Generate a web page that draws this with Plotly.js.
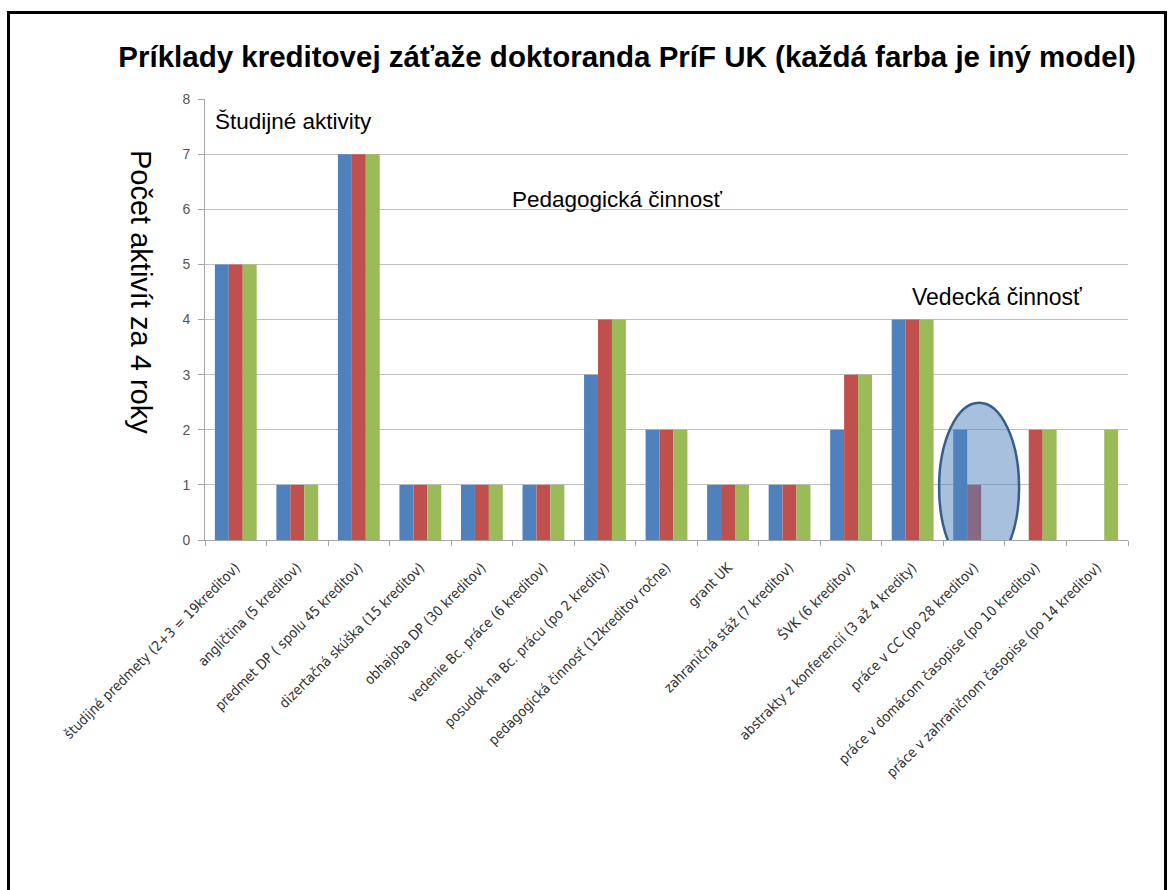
<!DOCTYPE html>
<html>
<head>
<meta charset="utf-8">
<script src="https://cdn.plot.ly/plotly-3.0.1.min.js"></script>
<style>
html,body{margin:0;padding:0;background:#fff;}
#frame{position:absolute;left:7px;top:11px;width:1154px;height:900px;border:3px solid #000;box-sizing:content-box;}
#chart{position:absolute;left:0;top:0;width:1173px;height:890px;}
</style>
</head>
<body>
<div id="frame"></div>
<div id="chart"></div>
<script>
const categories = [
  "študijné predmety (2+3 = 19kreditov)",
  "angličtina (5 kreditov)",
  "predmet DP ( spolu 45 kreditov)",
  "dizertačná skúška (15 kreditov)",
  "obhajoba DP (30 kreditov)",
  "vedenie Bc. práce (6 kreditov)",
  "posudok na Bc. prácu (po 2 kredity)",
  "pedagogická činnosť (12kreditov ročne)",
  "grant UK",
  "zahraničná stáž (7 kreditov)",
  "ŠVK (6 kreditov)",
  "abstrakty z konferencií (3 až 4 kredity)",
  "práce v CC (po 28 kreditov)",
  "práce v domácom časopise (po 10 kreditov)",
  "práce v zahraničnom časopise (po 14 kreditov)"
];
const modelBlue  = [5,1,7,1,1,1,3,2,1,1,2,4,2,0,0];
const modelRed   = [5,1,7,1,1,1,4,2,1,1,3,4,1,2,0];
const modelGreen = [5,1,7,1,1,1,4,2,1,1,3,4,0,2,2];
const yTicks = [0,1,2,3,4,5,6,7,8];

const mk = (y, color, name) => ({
  type: 'bar', x: categories, y: y, name: name,
  marker: {color: color, line: {width: 0}}, hoverinfo: 'x+y'
});
const data = [
  mk(modelBlue, '#4F81BD', 'Model 1'),
  mk(modelRed, '#C0504D', 'Model 2'),
  mk(modelGreen, '#9BBB59', 'Model 3')
];

const L = 205, R = 1128, T = 99, B = 540;
const PW = R - L, PH = B - T;
const px = v => (v - L) / PW;
const py = v => 1 - (v - T) / PH;

const layout = {
  width: 1173, height: 890,
  margin: {l: L, r: 1173 - R, t: T, b: 890 - B},
  paper_bgcolor: 'rgba(0,0,0,0)', plot_bgcolor: 'rgba(0,0,0,0)',
  showlegend: false,
  barmode: 'group', bargap: 0.32, bargroupgap: 0,
  font: {family: 'Liberation Sans, Arial, sans-serif', color: '#000'},
  title: {
    text: '<b>Príklady kreditovej záťaže doktoranda PríF UK (každá farba je iný model)</b>',
    font: {size: 29.5, family: 'Liberation Sans, Arial, sans-serif', color: '#000'},
    x: 627/1173, xref: 'container', xanchor: 'center', y: 1 - 57/890, yref: 'container', yanchor: 'middle'
  },
  xaxis: {
    type: 'category', tickangle: -45,
    tickfont: {size: 14, family: 'DejaVu Sans Condensed, DejaVu Sans, sans-serif', color: '#333'},
    showgrid: false, showline: true, linecolor: '#a6a6a6', linewidth: 1,
    tickson: 'boundaries', ticks: 'outside', ticklen: 5, tickcolor: '#a6a6a6',
    ticklabelstandoff: 13, automargin: false
  },
  yaxis: {
    range: [0, 8], tickvals: yTicks, ticktext: yTicks.map(String),
    tickfont: {size: 14, color: '#555'},
    showgrid: true, gridcolor: '#c0c0c0', gridwidth: 1,
    showline: true, linecolor: '#a6a6a6', linewidth: 1,
    ticks: 'outside', ticklen: 6, tickcolor: '#a6a6a6',
    ticklabelstandoff: 5,
    zeroline: false, automargin: false
  },
  shapes: [{
    type: 'circle', layer: 'above', xref: 'x', yref: 'y',
    x0: 11.43, x1: 12.73, y0: -0.58, y1: 2.49,
    fillcolor: 'rgba(79,129,189,0.5)',
    line: {color: '#385D8A', width: 2.5}
  }],
  annotations: [
    {text: 'Počet aktivít za 4 roky', textangle: 90, xref: 'paper', yref: 'paper',
     x: px(141), y: py(292), xanchor: 'center', yanchor: 'middle',
     showarrow: false, font: {size: 29, color: '#000'}},
    {text: 'Študijné aktivity', xref: 'paper', yref: 'paper',
     x: px(213), y: py(121), xanchor: 'left', yanchor: 'middle',
     showarrow: false, font: {size: 22.5, color: '#000'}},
    {text: 'Pedagogická činnosť', xref: 'paper', yref: 'paper',
     x: px(510), y: py(199), xanchor: 'left', yanchor: 'middle',
     showarrow: false, font: {size: 22.5, color: '#000'}},
    {text: 'Vedecká činnosť', xref: 'paper', yref: 'paper',
     x: px(910), y: py(297), xanchor: 'left', yanchor: 'middle',
     showarrow: false, font: {size: 23, color: '#000'}}
  ]
};

Plotly.newPlot('chart', data, layout, {displayModeBar: false, staticPlot: true});
</script>
</body>
</html>
